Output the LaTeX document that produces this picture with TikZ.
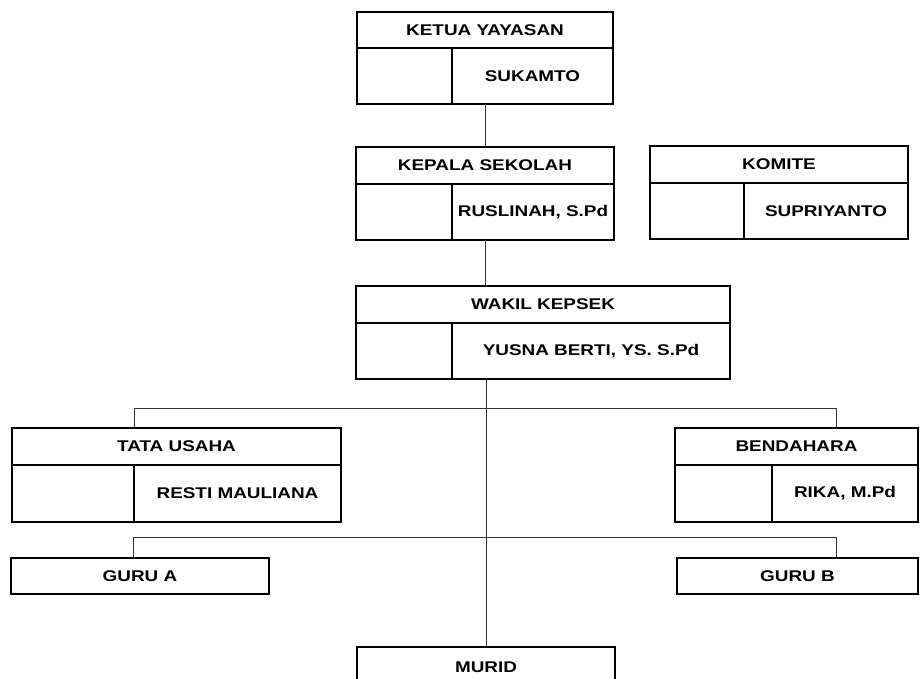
\documentclass[tikz,border=0pt]{standalone}
\usepackage{fontspec}
\setmainfont{Liberation Sans}[FakeStretch=1.22]
\newcommand\orgbox[9]{% name, x1, y1, x2, ydiv, y2, xin, title, person
  \node[box, anchor=north west, minimum width={(#4-#2)*1pt}, minimum height={(#5-#3)*1pt}] (#1-t) at (#2,#3) {#8};
  \node[box, anchor=north west, minimum width={(#7-#2)*1pt}, minimum height={(#6-#5)*1pt}] (#1-e) at (#2,#5) {};
  \node[box, anchor=north west, minimum width={(#4-#7)*1pt}, minimum height={(#6-#5)*1pt}] (#1-p) at (#7,#5) {#9};
}
\begin{document}
\begin{tikzpicture}[x=1pt,y=-1pt,
  box/.style={draw, line width=2.5pt, rectangle, inner sep=0pt, outer sep=0pt, font=\bfseries\fontsize{15.5}{18}\selectfont},
  link/.style={draw=black!80, line width=0.9pt}]
\useasboundingbox (0,0) rectangle (923,679);
\clip (0,0) rectangle (923,679);
\orgbox{ketua}{357}{12}{613}{48}{104}{452}{KETUA YAYASAN}{SUKAMTO}
\orgbox{kepala}{356}{147}{614}{184}{240}{452}{KEPALA SEKOLAH}{RUSLINAH, S.Pd}
\orgbox{komite}{650}{146}{908}{183}{239}{744}{KOMITE}{SUPRIYANTO}
\orgbox{wakil}{356}{286}{730}{323}{379}{452}{WAKIL KEPSEK}{YUSNA BERTI, YS. S.Pd}
\orgbox{tu}{12}{428}{341}{465}{522}{134}{TATA USAHA}{RESTI MAULIANA}
\orgbox{bend}{675}{428}{918}{465}{522}{772}{BENDAHARA}{RIKA, M.Pd}
\node[box, anchor=north west, minimum width=258pt, minimum height=36pt] (gurua) at (11,558) {GURU A};
\node[box, anchor=north west, minimum width=241pt, minimum height=36pt] (gurub) at (677,558) {GURU B};
\node[box, anchor=north west, minimum width=258pt, minimum height=40pt] (murid) at (357,647) {MURID};
\coordinate (bend-in) at (836,428);
\coordinate (gurub-in) at (836,558);
\coordinate (gurua-in) at (133,558);
\draw[link] (ketua-p.south -| kepala-t.north) -- (kepala-t.north);
\draw[link] (kepala-p.south -| kepala-t.north) -- (wakil-t.north -| kepala-t.north);
\draw[link] (wakil-p.south -| murid.north) -- (murid.north);
\draw[link] (tu-t.north -| tu-e.east) -- ++(0,-20) -| (bend-in);
\draw[link] (gurua-in) -- ++(0,-21) -| (gurub-in);
\end{tikzpicture}
\end{document}
